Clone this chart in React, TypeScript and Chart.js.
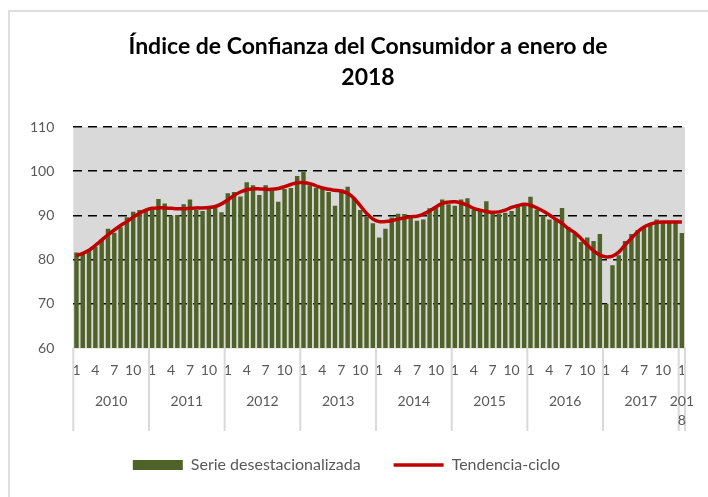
import React, { useEffect, useRef } from 'react';
import { Chart, registerables } from 'chart.js';

Chart.register(...registerables);

const chartTitle = ['Índice de Confianza del Consumidor a enero de', '2018'];
const years = ['2010', '2011', '2012', '2013', '2014', '2015', '2016', '2017', '2018'];
const monthsInYear = [12, 12, 12, 12, 12, 12, 12, 12, 1];
const yTicks = [60, 70, 80, 90, 100, 110];

const serieDesestacionalizada = [
  81.6, 81.5, 82.3, 82.9, 84.5, 87.0, 86.1, 87.3, 89.6, 90.8, 91.2, 91.0,
  91.3, 93.7, 92.7, 90.0, 90.1, 92.5, 93.6, 91.3, 91.0, 91.8, 91.8, 90.7,
  95.0, 95.3, 94.3, 97.5, 96.8, 94.6, 96.8, 95.6, 93.1, 96.0, 96.2, 98.9,
  99.9, 96.8, 96.2, 96.0, 95.3, 92.2, 95.9, 96.5, 94.0, 91.2, 89.7, 88.2,
  85.0, 87.0, 89.5, 90.4, 90.3, 89.8, 88.8, 89.1, 91.6, 91.9, 93.6, 92.5,
  92.2, 93.6, 93.9, 91.3, 91.0, 93.2, 90.4, 90.4, 90.6, 91.0, 92.5, 92.5,
  94.2, 91.3, 90.0, 89.1, 89.4, 91.7, 87.4, 85.9, 84.0, 85.0, 84.2, 85.8,
  70.0, 78.7, 81.0, 84.2, 85.8, 86.7, 87.4, 88.2, 89.1, 88.5, 88.5, 88.5,
  86.0,
];

const tendenciaCiclo = [
  80.9, 81.4, 82.1, 83.2, 84.4, 85.6, 86.7, 87.7, 88.6, 89.6, 90.5, 91.2,
  91.6, 91.7, 91.7, 91.6, 91.5, 91.5, 91.6, 91.7, 91.7, 91.8, 92.0, 92.6,
  93.5, 94.5, 95.3, 95.8, 96.0, 96.0, 95.9, 95.9, 96.1, 96.5, 97.0, 97.4,
  97.4, 97.2, 96.7, 96.2, 95.9, 95.7, 95.5, 95.0, 93.9, 92.2, 90.5, 89.2,
  88.6, 88.6, 88.8, 89.2, 89.4, 89.7, 89.8, 90.3, 91.0, 91.9, 92.7, 93.0,
  93.1, 92.8, 92.3, 91.6, 91.2, 90.9, 90.7, 90.8, 91.2, 91.8, 92.2, 92.5,
  92.3, 91.7, 91.0, 90.1, 89.1, 88.2, 87.0, 86.1, 84.8, 83.3, 82.0, 81.0,
  80.6, 80.8, 81.7, 83.3, 84.8, 86.3, 87.4, 88.0, 88.4, 88.5, 88.5, 88.5,
  88.5,
];

const FONT = 'Lato, "Open Sans", "DejaVu Sans", sans-serif';
const TEXT_GRAY = '#595959';

const labels: string[] = [];
years.forEach((y, yi) => {
  for (let m = 1; m <= monthsInYear[yi]; m++) labels.push(String(m));
});

const plotBgPlugin = {
  id: 'plotBg',
  beforeDraw(chart: any) {
    const { ctx, chartArea: a } = chart;
    ctx.save();
    ctx.fillStyle = '#d9d9d9';
    ctx.fillRect(a.left, a.top, a.right - a.left, a.bottom - a.top);
    ctx.restore();
  },
};

const yearAxisPlugin = {
  id: 'yearAxis',
  afterDraw(chart: any) {
    const { ctx, chartArea: a } = chart;
    const xs = chart.scales.x;
    const step = xs.getPixelForValue(1) - xs.getPixelForValue(0);
    const sepBottom = a.bottom + 83;
    ctx.save();
    ctx.strokeStyle = '#d9d9d9';
    ctx.lineWidth = 2;
    ctx.font = `14px ${FONT}`;
    ctx.fillStyle = TEXT_GRAY;
    ctx.textAlign = 'center';
    ctx.textBaseline = 'middle';
    let start = 0;
    years.forEach((y, yi) => {
      const n = monthsInYear[yi];
      const left = xs.getPixelForValue(start) - step / 2;
      const right = xs.getPixelForValue(start + n - 1) + step / 2;
      ctx.beginPath();
      ctx.moveTo(left, a.bottom);
      ctx.lineTo(left, sepBottom);
      if (yi === years.length - 1) {
        ctx.moveTo(right, a.bottom);
        ctx.lineTo(right, sepBottom);
      }
      ctx.stroke();
      const cx = (left + right) / 2;
      const cy = a.bottom + 53;
      const w = ctx.measureText(y).width;
      if (w > (right - left) * 2) {
        ctx.fillText(y.slice(0, y.length - 1), cx, cy);
        ctx.fillText(y.slice(y.length - 1), cx, cy + 19);
      } else {
        ctx.fillText(y, cx, cy);
      }
      start += n;
    });
    ctx.restore();
  },
};

const titlePlugin = {
  id: 'customTitle',
  afterDraw(chart: any) {
    const { ctx } = chart;
    ctx.save();
    ctx.font = `bold 23px ${FONT}`;
    ctx.fillStyle = '#000000';
    ctx.textAlign = 'center';
    ctx.textBaseline = 'middle';
    ctx.fillText(chartTitle[0], 368, 47);
    ctx.fillText(chartTitle[1], 368, 78);
    ctx.restore();
  },
};

export default function App() {
  const ref = useRef<HTMLCanvasElement | null>(null);

  useEffect(() => {
    if (!ref.current) return;
    const chart = new Chart(ref.current, {
      type: 'bar',
      data: {
        labels,
        datasets: [
          {
            type: 'bar',
            label: 'Serie desestacionalizada',
            data: serieDesestacionalizada,
            backgroundColor: '#4f6228',
            borderWidth: 0,
            barPercentage: 0.7,
            categoryPercentage: 1,
            order: 1,
          } as any,
          {
            type: 'line',
            label: 'Tendencia-ciclo',
            data: tendenciaCiclo,
            borderColor: '#c00000',
            backgroundColor: '#c00000',
            borderWidth: 3.5,
            pointRadius: 0,
            tension: 0.4,
            fill: false,
            order: 0,
          } as any,
        ],
      },
      options: {
        responsive: false,
        animation: false,
        devicePixelRatio: 1,
        layout: { padding: { left: 8, right: 23, top: 127, bottom: 14 } },
        plugins: {
          title: { display: false },
          tooltip: { enabled: false },
          legend: {
            display: true,
            position: 'bottom',
            labels: {
              usePointStyle: true,
              pointStyleWidth: 50,
              boxHeight: 10,
              padding: 33,
              color: TEXT_GRAY,
              font: { family: FONT, size: 16 },
              sort: (a: any, b: any) => a.datasetIndex - b.datasetIndex,
              generateLabels: (chart: any) => {
                const items = Chart.defaults.plugins.legend.labels.generateLabels(chart);
                return items.map((it: any) => {
                  if (it.datasetIndex === 0) {
                    return { ...it, pointStyle: 'rect', fillStyle: '#4f6228', strokeStyle: '#4f6228', lineWidth: 0 };
                  }
                  return { ...it, pointStyle: 'line', fillStyle: '#c00000', strokeStyle: '#c00000', lineWidth: 3.5 };
                });
              },
            },
          },
        },
        scales: {
          x: {
            type: 'category',
            offset: true,
            grid: { display: false },
            border: { display: true, color: '#d9d9d9', width: 1.5 },
            ticks: {
              autoSkip: false,
              maxRotation: 0,
              minRotation: 0,
              padding: 6,
              color: TEXT_GRAY,
              font: { family: FONT, size: 14 },
              callback: (_v: any, i: number) => ((Number(labels[i]) - 1) % 3 === 0 ? labels[i] : ''),
            },
            afterFit: (s: any) => {
              s.height = 76;
            },
          },
          y: {
            min: yTicks[0],
            max: yTicks[yTicks.length - 1],
            afterBuildTicks: (s: any) => {
              s.ticks = yTicks.map((v) => ({ value: v }));
            },
            grid: {
              drawTicks: false,
              lineWidth: 1.6,
              color: (c: any) => (c.tick && c.tick.value === yTicks[0] ? 'rgba(0,0,0,0)' : '#000000'),
            },
            border: { display: false, dash: [9, 6] },
            ticks: {
              padding: 19,
              color: TEXT_GRAY,
              font: { family: FONT, size: 14 },
            },
            afterFit: (s: any) => {
              s.width = 65.3;
            },
          },
        },
      },
      plugins: [plotBgPlugin, yearAxisPlugin, titlePlugin],
    });
    return () => chart.destroy();
  }, []);

  return (
    <div style={{ position: 'fixed', left: 0, top: 0, width: 708, height: 497, background: '#ffffff' }}>
      <div
        style={{
          position: 'absolute',
          left: 8,
          top: 10,
          width: 700,
          height: 487,
          borderTop: '2px solid #dedede',
          borderLeft: '2px solid #dedede',
          boxSizing: 'border-box',
        }}
      />
      <canvas
        ref={ref}
        width={708}
        height={497}
        style={{ position: 'absolute', left: 0, top: 0, width: 708, height: 497 }}
      />
    </div>
  );
}
